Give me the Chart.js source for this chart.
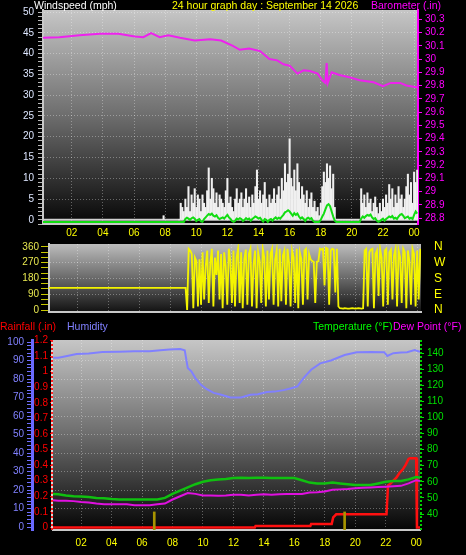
<!DOCTYPE html>
<html>
<head>
<meta charset="utf-8">
<script src="https://cdn.jsdelivr.net/npm/chart.js@4.4.0/dist/chart.umd.min.js"></script>
<style>
  body { margin: 0; background: #000; }
  #wrap { position: relative; width: 466px; height: 555px; overflow: hidden; background: #000;
          font-family: 'Liberation Sans', Arial, sans-serif; }
  canvas { position: absolute; left: 0; }
  .t { position: absolute; font-size: 10.5px; line-height: 12px; white-space: nowrap; }
</style>
</head>
<body>
<div id="wrap">
  <canvas id="windChart" width="466" height="240" style="top:0"></canvas>
  <canvas id="dirChart" width="466" height="83" style="top:236px"></canvas>
  <canvas id="climChart" width="466" height="237" style="top:318px"></canvas>

  <div class="t" style="left:34px;top:-1px;color:#fff">Windspeed (mph)</div>
  <div class="t" style="left:172px;top:-1px;color:#ffff00">24 hour graph day : September 14 2026</div>
  <div class="t" style="left:371px;top:-1px;color:#ff00ff">Barometer (.in)</div>

  <div class="t" style="left:0;top:320px;color:#ff0000">Rainfall (.in)</div>
  <div class="t" style="left:67px;top:320px;color:#8080ff">Humidity</div>
  <div class="t" style="left:313px;top:320px;color:#00ff00">Temperature (°F)</div>
  <div class="t" style="left:393px;top:320px;color:#ff00ff">Dew Point (°F)</div>
</div>
<script>
// time range of the graph (hours of the day)
const hourMin = 0.15;
const hourMax = 24.25;

// wind readings, one every 6 minutes from 08:54
const windStart = 8.9;
const windStep = 0.1;
const gust = [
  0,
  4, 3, 2, 5, 3, 8, 2, 6, 4, 7.5,
  3, 6, 5, 2, 6, 4, 3, 7, 12.5, 5,
  10, 7.5, 4, 6.5, 3, 6, 5, 4, 3, 7,
  10, 4, 5.5, 3, 2, 5, 7.5, 4, 5, 6.5,
  3, 5, 7.5, 4, 5.5, 3, 6, 4, 8, 12,
  5, 7, 4, 6, 9, 5, 3, 6, 4, 5,
  7.5, 4, 6, 8, 5, 10, 7, 13.5, 9, 11,
  19.5, 10, 8, 12, 7, 13.5, 9, 5, 8, 6,
  4, 7, 3, 5, 6.5, 3, 4.5, 2, 3, 1,
  4, 8, 11.5, 9, 13.5, 10, 13, 7.5, 11, 3,
  0, 0, 0, 0, 0, 0, 0, 0, 0, 0,
  0, 0, 0, 0, 0, 0, 7.5, 4, 6, 3,
  6.5, 4, 5, 2, 4, 5.5, 3, 1.5, 4, 2,
  5, 3, 6, 4, 8.5, 5, 7.5, 3, 6, 4,
  8, 5, 6, 3, 5, 8, 11, 6, 9, 4,
  11.5, 9, 12
];
const avgSpeed = [
  -0.5,
  -0.5, -0.5, -0.5, 0.2, 0.5, 0.3, 0, 0.4, 0.6, 0.3,
  -0.3, 0, 0.2, -0.4, -0.5, 0.2, 0.6, 1.0, 1.4, 1.2,
  1.5, 1.0, 0.8, 1.1, 0.5, 0.2, 0.4, 0.6, 0.3, 0.8,
  1.2, 0.6, 0.2, -0.3, -0.5, -0.2, 0.3, 0.1, 0.4, 0.2,
  -0.3, 0, 0.4, 0.1, 0.3, -0.2, 0.2, 0.5, 0.8, 0.6,
  0.3, 0.5, 0, -0.4, 0.2, 0, -0.5, 0, 0.2, -0.2,
  0.3, 0.6, 0.2, 0.5, 0.3, 0.8, 1.2, 1.8, 2.0, 2.3,
  2.0, 1.5, 1.0, 1.6, 1.2, 1.5, 0.8, 0.3, 0.6, 0.2,
  -0.3, 0.3, 0.5, 0.2, 0.4, -0.2, -0.5, -0.5, -0.5, -0.5,
  0, 0.8, 1.5, 2.5, 3.5, 3.8, 3.3, 2.0, 0.8, -0.2,
  -0.5, -0.5, -0.5, -0.5, -0.5, -0.5, -0.5, -0.5, -0.5, -0.5,
  -0.5, -0.5, -0.5, -0.5, -0.5, -0.5, 0.3, 0.8, 0.5, 0.9,
  1.2, 1.0, 1.3, 0.6, 0.2, 0.4, -0.2, -0.5, -0.3, 0,
  0.3, -0.2, 0.2, 0.5, 0.8, 0.6, 0.9, 0.3, 0.5, 0.2,
  0.8, 1.2, 1.4, 1.0, 0.4, 0.6, 0.8, 0.3, 0.5, 0.2,
  1.2, 2.0, 1.5
];
const windDir = [
  126,
  126, 0, 350, 340, 320, 10, 300, 280, 20, 290,
  30, 330, 60, 250, 340, 40, 270, 350, 20, 300,
  200, 340, 60, 320, 10, 330, 250, 30, 350, 280,
  40, 340, 20, 300, 350, 40, 330, 10, 290, 345,
  30, 320, 350, 20, 260, 340, 10, 330, 280, 40,
  350, 300, 20, 340, 60, 320, 350, 30, 290, 340,
  20, 350, 50, 310, 340, 30, 350, 270, 20, 340,
  300, 40, 350, 10, 330, 290, 30, 340, 350, 60,
  320, 290, 280, 275, 40, 276, 278, 350, 345, 350,
  140, 355, 350, 30, 340, 350, 345, 100, 350, 20,
  10, 9, 8, 10, 9, 8, 8, 9, 10, 9,
  8, 9, 10, 9, 8, 10, 340, 350, 20, 330,
  345, 350, 10, 320, 340, 80, 350, 300, 20, 340,
  350, 30, 330, 345, 60, 310, 350, 20, 340, 300,
  40, 350, 330, 10, 340, 280, 30, 350, 320, 20,
  340, 60, 350
];
// quiet part of the night
const calmDir = 126;
const calmAvg = -0.5;
const earlyGustHours = [7.9];
const earlyGust = [1];

// barometer
const baroHours = [0.15, 1.2, 2.5, 3.8, 5.0, 6.05, 6.6, 7.1, 7.65, 8.2,
  8.95, 9.9, 10.9, 11.6, 12.35, 12.8, 13.4, 14.1, 14.7, 15.2,
  15.6, 16.0, 16.5, 16.9, 17.3, 17.8, 18.1, 18.3, 18.38, 18.45,
  18.7, 19.2, 19.9, 20.5, 21.4, 22.0, 22.5, 23.1, 23.5, 24.25];
const baro = [30.16, 30.165, 30.18, 30.19, 30.19, 30.17, 30.165, 30.195, 30.165, 30.18,
  30.16, 30.14, 30.15, 30.14, 30.10, 30.07, 30.08, 30.06, 30.0, 29.99,
  29.96, 29.95, 29.89, 29.915, 29.91, 29.89, 29.84, 29.82, 29.97, 29.82,
  29.9, 29.88, 29.86, 29.84, 29.825, 29.795, 29.82, 29.82, 29.8, 29.785];

// temperature and dew point
const climHours = [0.15, 0.5, 1, 1.5, 2, 2.5, 3, 3.5, 4, 4.5,
  5, 5.5, 6, 6.5, 7, 7.5, 8, 8.5, 9, 9.5,
  10, 10.5, 11, 11.5, 12, 12.5, 13, 13.5, 14, 14.5,
  15, 15.5, 16, 16.5, 17, 17.5, 18, 18.5, 19, 19.5,
  20, 20.5, 21, 21.5, 22, 22.5, 23, 23.5, 24, 24.25];
const temperature = [52.5, 52.3, 51.5, 51, 50.8, 50.5, 50, 49.8, 49.3, 49,
  49, 49, 49, 49, 49, 50, 52.5, 54.5, 56.5, 58.5,
  60, 61, 61.5, 61.8, 62.3, 62.5, 62.3, 62.5, 62.5, 62.3,
  62.3, 62.3, 62.3, 61, 59.5, 59, 59, 59.5, 59, 58.5,
  58, 58, 58, 59, 60, 60.5, 60.5, 61.5, 63, 62.5];
const dewPoint = [48.5, 48.3, 48.3, 48, 47.5, 47.2, 46.5, 46, 46, 46,
  46, 45.5, 45.5, 45.5, 46, 46.5, 49, 51, 53, 52.5,
  51.5, 51.5, 51.3, 51.5, 52, 52, 51.5, 52, 52.3, 52,
  52.3, 52.5, 52.5, 52.5, 53.3, 53.5, 54, 55, 55.3, 55.5,
  56, 56.3, 56.5, 56.7, 57, 57.3, 57.5, 59, 61, 60.5];

// humidity
const humHours = [0.15, 0.5, 1, 1.7, 2.5, 3.4, 4.5, 5.5, 6.5, 7.2,
  7.8, 8.5, 8.8, 9.0, 9.25, 9.5, 9.85, 10.25, 10.7, 11.2,
  11.8, 12.5, 13.1, 13.6, 14.2, 14.7, 15.3, 15.8, 16.2, 16.6,
  17.1, 17.7, 18.4, 19.3, 20.1, 21, 21.9, 22.1, 22.5, 23,
  23.4, 23.9, 24.25];
const humidity = [91.5, 91.5, 92.3, 93.5, 93.8, 94.6, 94.8, 95, 95, 95.5,
  96, 96.2, 95.5, 86, 84, 80.5, 77, 74.5, 72.5, 71.5,
  70, 70, 71.5, 71.8, 73, 73.2, 74, 75, 76, 80.5,
  85, 88.5, 90, 93, 94.5, 94.6, 94.5, 92.5, 94, 94.3,
  94.5, 95.7, 94.7];

// rainfall (daily total)
const rainHours = [0.15, 13.4, 13.45, 17.05, 17.1, 18.45, 18.55, 18.75, 22.05, 22.15,
  22.3, 22.5, 22.7, 22.9, 23.1, 23.3, 23.5, 23.6, 24.0, 24.05, 24.25];
const rain = [0, 0, 0.01, 0.01, 0.022, 0.022, 0.065, 0.085, 0.085, 0.27,
  0.28, 0.30, 0.32, 0.35, 0.37, 0.40, 0.44, 0.445, 0.445, 0, 0];

// sunrise / sunset markers
const markerHours = [6.8, 19.3];
const markerTop = 0.1;

// compass labels for the direction axis
const compass = { 0: 'N', 90: 'E', 180: 'S', 270: 'W', 360: 'N' };

Chart.defaults.font.family = "'Liberation Sans Narrow', 'Liberation Sans', Arial, sans-serif";
Chart.defaults.font.size = 10;
Chart.defaults.locale = 'en-US';

const windHours = gust.map((_, i) => +(windStart + i * windStep).toFixed(2));
const pts = (xs, ys) => xs.map((x, i) => ({ x: x, y: ys[i] }));
const hourLabel = v => String(v % 24).padStart(2, '0');
const decLabel = v => String(+v.toFixed(2));
const dotted = 'rgba(255,255,255,0.33)';
const clear = 'rgba(0,0,0,0)';

// gradient background + extra axis lines
const panelPlugin = {
  id: 'panel',
  beforeDraw(chart, args, opts) {
    const { ctx, chartArea: a } = chart;
    const g = ctx.createLinearGradient(0, a.top, 0, a.bottom);
    g.addColorStop(0, opts.top);
    g.addColorStop(0.5, opts.mid);
    g.addColorStop(1, opts.bottom);
    ctx.save();
    ctx.fillStyle = g;
    ctx.fillRect(a.left, a.top, a.right - a.left, a.bottom - a.top);
    ctx.restore();
  },
  beforeDatasetsDraw(chart, args, opts) {
    if (!opts.zero) return;
    const { ctx, chartArea: a } = chart;
    const y = chart.scales[opts.zero.axis].getPixelForValue(0);
    ctx.save();
    ctx.strokeStyle = opts.zero.color;
    ctx.lineWidth = 2;
    ctx.beginPath();
    ctx.moveTo(a.left, y);
    ctx.lineTo(a.right, y);
    ctx.stroke();
    ctx.restore();
  },
  afterDatasetsDraw(chart, args, opts) {
    const { ctx, chartArea: a } = chart;
    (opts.edges || []).forEach(e => {
      const s = chart.scales[e.axis];
      const x = s.position === 'left' ? s.right - 1 : s.left + 1;
      ctx.save();
      ctx.strokeStyle = e.color;
      ctx.lineWidth = e.width;
      ctx.setLineDash(e.dash || []);
      ctx.beginPath();
      ctx.moveTo(x, a.top);
      ctx.lineTo(x, a.bottom);
      ctx.stroke();
      ctx.restore();
    });
  }
};

const common = {
  responsive: false,
  animation: false,
  events: [],
  locale: 'en-US',
  plugins: { legend: { display: false }, tooltip: { enabled: false } }
};

function hourAxis(height, showLabels, pad) {
  return {
    type: 'linear', min: hourMin, max: hourMax, offset: false,
    afterFit: s => { s.height = height; },
    grid: { color: dotted, drawTicks: false, offset: false },
    border: { color: '#c8c8c8', width: 2, dash: [1, 2] },
    ticks: { display: showLabels, stepSize: 2, includeBounds: false, autoSkip: false,
             maxRotation: 0, padding: pad, color: '#ffff00', callback: hourLabel }
  };
}

// wind speed + barometer
new Chart(document.getElementById('windChart'), {
  type: 'line',
  data: {
    datasets: [
      { type: 'line', label: 'Barometer', yAxisID: 'baro', data: pts(baroHours, baro),
        borderColor: '#ee22ee', borderWidth: 2, pointRadius: 0, tension: 0 },
      { type: 'line', label: 'Average', yAxisID: 'y',
        data: [{ x: hourMin, y: calmAvg }].concat(pts(windHours, avgSpeed)),
        borderColor: '#11dd11', borderWidth: 2, pointRadius: 0, tension: 0 },
      { type: 'bar', label: 'Gust', yAxisID: 'y',
        data: pts(earlyGustHours, earlyGust).concat(pts(windHours, gust)),
        backgroundColor: '#f0f0f0', barThickness: 1.4, grouped: false, borderWidth: 0 }
    ]
  },
  options: Object.assign({}, common, {
    layout: { padding: { top: 10, left: 0, right: 0, bottom: 0 } },
    scales: {
      x: hourAxis(16, true, 3),
      y: {
        position: 'left', min: -1, max: 50.5,
        afterFit: s => { s.width = 43; },
        grid: { color: c => (c.tick.value % 5 === 0 && c.tick.value > 0) ? dotted : clear,
                tickColor: '#b8b8b8', tickLength: 5 },
        border: { color: '#c8c8c8', width: 2, dash: [1, 2] },
        ticks: { stepSize: 1, includeBounds: false, autoSkip: false, padding: 4, color: '#dde6ff',
                 callback: v => (v % 5 === 0 ? v : '') }
      },
      baro: {
        position: 'right', min: 28.755, max: 30.37,
        afterFit: s => { s.width = 48; },
        grid: { drawOnChartArea: false, tickColor: '#ff00ff', tickLength: 4 },
        border: { color: '#ff00ff', width: 2 },
        ticks: { stepSize: 0.1, includeBounds: false, autoSkip: false, padding: 3, color: '#ff00ff',
                 callback: decLabel }
      }
    },
    plugins: Object.assign({}, common.plugins, {
      panel: { top: '#c6c6c6', mid: '#6c6c6c', bottom: '#060606', zero: { axis: 'y', color: '#d0d0d0' } }
    })
  }),
  plugins: [panelPlugin]
});

// wind direction
new Chart(document.getElementById('dirChart'), {
  type: 'line',
  data: {
    datasets: [
      { label: 'Direction', yAxisID: 'y',
        data: [{ x: hourMin, y: calmDir }].concat(pts(windHours, windDir)),
        borderColor: '#f4f400', borderWidth: 1.8, pointRadius: 0, tension: 0 }
    ]
  },
  options: Object.assign({}, common, {
    layout: { padding: { top: 8, left: 0, right: 0, bottom: 0 } },
    scales: {
      x: hourAxis(7, false, 0),
      y: {
        position: 'left', min: -11.4, max: 377,
        afterFit: s => { s.width = 49; },
        grid: { color: c => (c.tick.value % 90 === 0 && c.tick.value > 0 && c.tick.value < 360) ? dotted : clear,
                tickColor: '#c8c800', tickLength: 8 },
        border: { color: '#c8c8c8', width: 2, dash: [1, 2] },
        ticks: { stepSize: 30, includeBounds: false, autoSkip: false, padding: 2, color: '#e8e850',
                 font: { size: 10, lineHeight: 1 },
                 callback: v => (v % 90 === 0 ? v : '') }
      },
      compass: {
        position: 'right', min: -11.4, max: 377,
        afterFit: s => { s.width = 45; },
        grid: { drawOnChartArea: false, drawTicks: true, tickLength: 13, tickColor: clear },
        border: { display: false },
        ticks: { stepSize: 90, includeBounds: false, autoSkip: false, padding: 0, color: '#ffff00',
                 font: { family: "'Liberation Sans', Arial, sans-serif", size: 12, lineHeight: 1 },
                 callback: v => compass[v] }
      }
    },
    plugins: Object.assign({}, common.plugins, {
      panel: { top: '#bcbcbc', mid: '#6a6a6a', bottom: '#121212' }
    })
  }),
  plugins: [panelPlugin]
});

// rain, humidity, temperature, dew point
new Chart(document.getElementById('climChart'), {
  type: 'line',
  data: {
    datasets: [
      { type: 'line', label: 'Humidity', yAxisID: 'hum', data: pts(humHours, humidity),
        borderColor: '#8080ff', borderWidth: 2, pointRadius: 0, tension: 0 },
      { type: 'line', label: 'Dew Point', yAxisID: 'temp', data: pts(climHours, dewPoint),
        borderColor: '#e010e0', borderWidth: 2, pointRadius: 0, tension: 0 },
      { type: 'line', label: 'Temperature', yAxisID: 'temp', data: pts(climHours, temperature),
        borderColor: '#10c010', borderWidth: 2.5, pointRadius: 0, tension: 0 },
      { type: 'bar', label: 'Sun', yAxisID: 'rain',
        data: markerHours.map(h => ({ x: h, y: [-0.02, markerTop] })),
        backgroundColor: '#a89400', barThickness: 2, grouped: false, borderWidth: 0 },
      { type: 'line', label: 'Rainfall', yAxisID: 'rain', data: pts(rainHours, rain),
        borderColor: '#ff1010', borderWidth: 2.5, pointRadius: 0, tension: 0 }
    ]
  },
  options: Object.assign({}, common, {
    layout: { padding: { top: 22, left: 0, right: 0, bottom: 0 } },
    scales: {
      x: hourAxis(25, true, 7),
      hum: {
        position: 'left', weight: 1, min: -1.6, max: 101.1,
        afterFit: s => { s.width = 32; },
        grid: { color: c => (c.tick.value % 10 === 0 && c.tick.value > 0 && c.tick.value < 100) ? dotted : clear,
                tickColor: '#7070ff', tickLength: 5 },
        border: { color: '#6a6aff', width: 3, dash: [1, 2] },
        ticks: { stepSize: 2, includeBounds: false, autoSkip: false, padding: 3, color: '#8080ff',
                 callback: v => (v % 10 === 0 ? v : '') }
      },
      rain: {
        position: 'left', weight: 0, min: -0.016, max: 1.203,
        afterFit: s => { s.width = 21; },
        grid: { drawOnChartArea: false, tickColor: '#ff0000', tickLength: 3 },
        border: { display: false },
        ticks: { stepSize: 0.1, includeBounds: false, autoSkip: false, padding: 2, color: '#ff0000',
                 callback: decLabel }
      },
      temp: {
        position: 'right', min: 30.06, max: 148.1,
        afterFit: s => { s.width = 46; },
        grid: { drawOnChartArea: false, tickColor: '#00e000', tickLength: 4 },
        border: { display: false },
        ticks: { stepSize: 10, includeBounds: false, autoSkip: false, padding: 3, color: '#00e000' }
      }
    },
    plugins: Object.assign({}, common.plugins, {
      panel: {
        top: '#c6c6c6', mid: '#6c6c6c', bottom: '#050505',
        edges: [
          { axis: 'rain', color: '#d8d8d8', width: 2 },
          { axis: 'rain', color: '#ff2020', width: 2, dash: [2, 2] },
          { axis: 'temp', color: '#00d000', width: 2, dash: [2, 2] }
        ]
      }
    })
  }),
  plugins: [panelPlugin]
});
</script>
</body>
</html>
